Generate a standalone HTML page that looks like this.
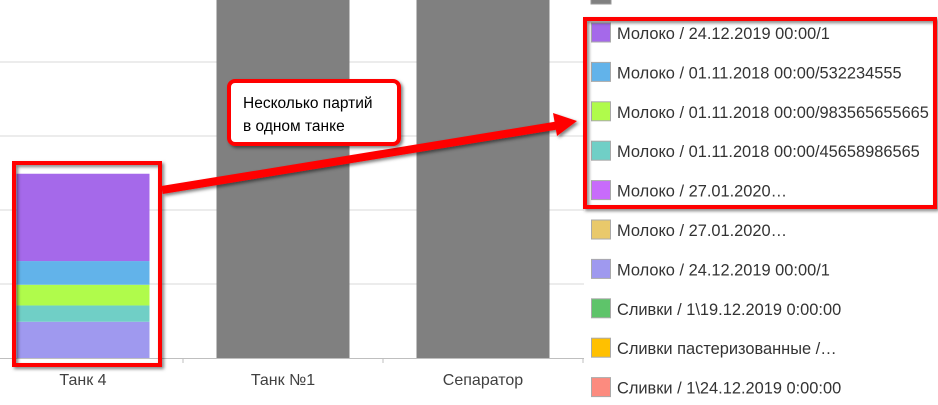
<!DOCTYPE html>
<html><head><meta charset="utf-8"><style>
body{margin:0;width:938px;height:400px;overflow:hidden;background:#fff;font-family:"Liberation Sans",sans-serif;}
</style></head><body>
<svg id="c" width="938" height="400"></svg>
<script>
const categories=["Танк 4","Танк №1","Сепаратор"];
const seriesNames=["Молоко / 24.12.2019 00:00/1","Молоко / 01.11.2018 00:00/532234555","Молоко / 01.11.2018 00:00/983565655665","Молоко / 01.11.2018 00:00/45658986565","Молоко / 27.01.2020…","Молоко / 27.01.2020…","Молоко / 24.12.2019 00:00/1","Сливки / 1\\19.12.2019 0:00:00","Сливки пастеризованные /…","Сливки / 1\\24.12.2019 0:00:00"];
const seriesColors=["#a569ea","#62b3ea","#b0fb4b","#70cfc6","#c86bfb","#e9c96b","#9f99ef","#5ec46a","#ffc000","#fc8b7f"];
// stack order bottom->top for Tank 4
const tank4Stack=[0.49,0.22,0.28,0.32,1.18];
const tank4Colors=["#9f99ef","#70cfc6","#b0fb4b","#62b3ea","#a569ea"];
const grayValues=[0,5.5,5.5];
const yTicks=[0,1,2,3,4];
const NS="http://www.w3.org/2000/svg";
const svg=document.getElementById('c');
function mk(t,a,p){const e=document.createElementNS(NS,t);for(const k in a)e.setAttribute(k,a[k]);(p||svg).appendChild(e);return e;}
const baseY=358,unit=74,plotL=0,plotR=584,catW=200,catX0=-17,barW=133;
const y=v=>baseY-v*unit;
const xc=i=>catX0+catW*i+catW/2;
yTicks.forEach(t=>{if(t===0)return;const l=mk('line',{x1:plotL,x2:plotR,y1:y(t),y2:y(t),stroke:'#d9d9d9','stroke-width':1});

});
const ax=mk('line',{x1:0,x2:plotR,y1:baseY+0.5,y2:baseY+0.5,stroke:'#bfbfbf'});


[1,2,3].forEach(i=>{const t=mk('line',{x1:catX0+catW*i,x2:catX0+catW*i,y1:baseY,y2:baseY+5,stroke:'#bfbfbf'});

});
let acc=0;
tank4Stack.forEach((v,k)=>{const r=mk('rect',{x:xc(0)-barW/2,y:y(acc+v),width:barW,height:v*unit,fill:tank4Colors[k]});

acc+=v;});
grayValues.forEach((v,i)=>{if(!v)return;const r=mk('rect',{x:xc(i)-barW/2,y:y(v),width:barW,height:v*unit,fill:'#808080'});

});
categories.forEach((c,i)=>{const t=mk('text',{x:xc(i),y:385,'text-anchor':'middle','font-size':16,fill:'#404040'});t.textContent=c;

});
const g0=mk('rect',{x:591,y:-7,width:20,height:11,fill:'#808080',stroke:'#999'});


seriesNames.forEach((n,i)=>{const cy=33+i*39.4;
const s=mk('rect',{x:591.5,y:cy-10,width:19,height:19,fill:seriesColors[i],stroke:'#aaa'});


const t=mk('text',{x:617,y:cy+6,'font-size':16.4,fill:'#333'});t.textContent=n;

});
const defs=mk('defs',{});
const f=mk('filter',{id:'sh',x:'-20%',y:'-20%',width:'140%',height:'140%'},defs);
mk('feDropShadow',{dx:2,dy:2,stdDeviation:1.5,'flood-color':'#000','flood-opacity':0.5},f);
const b1=mk('rect',{x:14,y:163,width:146,height:202,fill:'none',stroke:'#f00','stroke-width':4,filter:'url(#sh)'});


const b2=mk('rect',{x:585,y:19,width:350,height:188,fill:'none',stroke:'#f00','stroke-width':4,filter:'url(#sh)'});


const ar=mk('g',{filter:'url(#sh)'});


mk('line',{x1:162,y1:190,x2:560,y2:125,stroke:'#f00','stroke-width':8},ar);
mk('polygon',{points:'577,121 553,113 557,136',fill:'#f00'},ar);
const cb=mk('rect',{x:229,y:81,width:170,height:63,rx:6,fill:'#fff',stroke:'#f00','stroke-width':4,filter:'url(#sh)'});


const t1=mk('text',{x:243,y:108,'font-size':15.5,fill:'#000'});t1.textContent='Несколько партий';


const t2=mk('text',{x:243,y:131,'font-size':15.5,fill:'#000'});t2.textContent='в одном танке';


</script>
</body></html>
